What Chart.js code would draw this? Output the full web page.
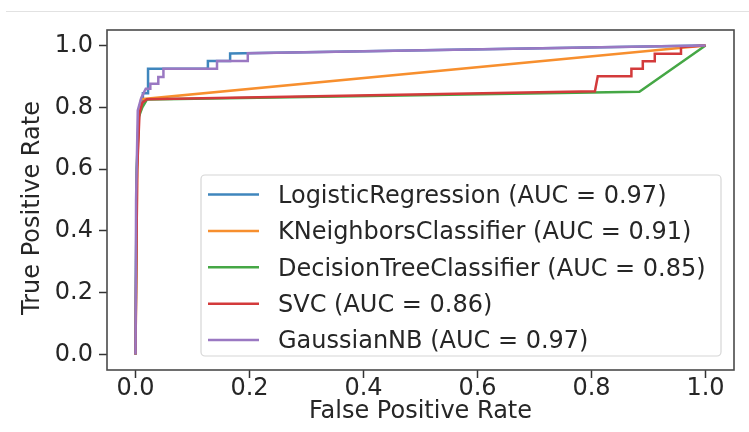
<!DOCTYPE html>
<html>
<head>
<meta charset="utf-8">
<script src="https://cdn.jsdelivr.net/npm/chart.js@4.4.1/dist/chart.umd.min.js"></script>
<style>
    html, body { margin: 0; padding: 0; background: #fff; }
    #wrap { position: relative; width: 749px; height: 432px; }
    #rule { position: absolute; left: 6px; right: 0; top: 11px; height: 1px; background: #e2e2e2; }
    canvas { position: absolute; left: 0; top: 0; }
</style>
</head>
<body>
<div id="wrap">
    <div id="rule"></div>
    <canvas id="rocChart" width="749" height="432"></canvas>
</div>
<script>
// tick values / labels shared by both axes
const tickValues = [0, 0.2, 0.4, 0.6, 0.8, 1.0];
const tickLabels = ['0.0', '0.2', '0.4', '0.6', '0.8', '1.0'];

const seriesNames = [
    'LogisticRegression (AUC = 0.97)',
    'KNeighborsClassifier (AUC = 0.91)',
    'DecisionTreeClassifier (AUC = 0.85)',
    'SVC (AUC = 0.86)',
    'GaussianNB (AUC = 0.97)'
];
const seriesColors = ['#3f86bd', '#f78f2e', '#45a745', '#d33a3b', '#9a78c2'];

// ROC points (false positive rate / true positive rate)
const lrFpr = [0, 0.002, 0.005, 0.01, 0.013, 0.013, 0.022, 0.022, 0.127, 0.127, 0.166, 0.166, 1];
const lrTpr = [0, 0.55, 0.76, 0.815, 0.82, 0.845, 0.845, 0.925, 0.925, 0.95, 0.95, 0.974, 1];

const knnFpr = [0, 0.003, 0.006, 0.01, 1];
const knnTpr = [0, 0.6, 0.79, 0.826, 1];

const dtFpr = [0, 0.002, 0.006, 0.012, 0.02, 0.884, 1];
const dtTpr = [0, 0.6, 0.77, 0.8, 0.825, 0.85, 1];

const svcFpr = [0, 0.003, 0.007, 0.012, 0.02, 0.806, 0.811, 0.87, 0.87, 0.89, 0.89, 0.911, 0.911, 0.957, 0.957, 1];
const svcTpr = [0, 0.6, 0.78, 0.815, 0.826, 0.852, 0.9, 0.9, 0.925, 0.925, 0.949, 0.949, 0.973, 0.973, 0.995, 1];

const nbFpr = [0, 0.001, 0.004, 0.01, 0.018, 0.026, 0.026, 0.04, 0.04, 0.049, 0.049, 0.143, 0.143, 0.197, 0.197, 1];
const nbTpr = [0, 0.5, 0.79, 0.83, 0.86, 0.86, 0.876, 0.876, 0.898, 0.898, 0.925, 0.925, 0.95, 0.95, 0.975, 1];

const fprList = [lrFpr, knnFpr, dtFpr, svcFpr, nbFpr];
const tprList = [lrTpr, knnTpr, dtTpr, svcTpr, nbTpr];

const FONT = 'DejaVu Sans';
const TEXT = '#262626';
const Y_TITLE = 'True Positive Rate';

document.addEventListener('DOMContentLoaded', function() {
    initializeChart();
});

function zip(xs, ys) {
    return xs.map((x, i) => ({ x: x, y: ys[i] }));
}

// axes frame (all four spines) + rotated y title
const framePlugin = {
    id: 'frame',
    afterDatasetsDraw(chart) {
        const a = chart.chartArea;
        const ctx = chart.ctx;
        ctx.save();
        ctx.strokeStyle = '#4a4a4a';
        ctx.lineWidth = 1.6;
        ctx.strokeRect(a.left, a.top, a.right - a.left, a.bottom - a.top);

        ctx.translate(33, (a.top + a.bottom) / 2 + 8);
        ctx.rotate(-Math.PI / 2);
        ctx.font = '24px "' + FONT + '"';
        ctx.fillStyle = TEXT;
        ctx.textAlign = 'center';
        ctx.textBaseline = 'middle';
        ctx.fillText(Y_TITLE, 0, 0);
        ctx.restore();
    }
};

// legend in the lower right corner, inside the axes
const insideLegend = {
    id: 'insideLegend',
    afterDraw(chart) {
        const a = chart.chartArea;
        const ctx = chart.ctx;
        const sets = chart.data.datasets;
        ctx.save();
        ctx.font = '24px "' + FONT + '"';
        const rowH = 36.4;
        const left = a.left + 94;
        const right = a.right - 13;
        const h = 181;
        const bottom = a.bottom - 14;
        const top = bottom - h;
        const w = right - left;

        ctx.beginPath();
        ctx.roundRect(left, top, w, h, 4);
        ctx.fillStyle = 'rgba(255,255,255,0.85)';
        ctx.fill();
        ctx.strokeStyle = '#d6d6d6';
        ctx.lineWidth = 1.2;
        ctx.stroke();

        sets.forEach((ds, i) => {
            const y = top + 19.5 + i * rowH;
            ctx.beginPath();
            ctx.moveTo(left + 7, y);
            ctx.lineTo(left + 58, y);
            ctx.strokeStyle = ds.borderColor;
            ctx.lineWidth = 2.5;
            ctx.stroke();
            ctx.fillStyle = TEXT;
            ctx.textBaseline = 'middle';
            ctx.textAlign = 'left';
            ctx.fillText(ds.label, left + 77, y + 2);
        });
        ctx.restore();
    }
};

function axisOptions(isX) {
    return {
        type: 'linear',
        min: -0.05,
        max: 1.05,
        afterBuildTicks: function(scale) {
            scale.ticks = tickValues.map(v => ({ value: v }));
        },
        afterFit: function(scale) {
            if (isX) scale.height = 62;
            else scale.width = 107;
        },
        grid: {
            display: true,
            drawOnChartArea: false,
            drawTicks: true,
            tickLength: 8,
            tickWidth: 1.5,
            tickColor: '#333'
        },
        border: { display: false },
        ticks: {
            padding: isX ? -4 : 6,
            color: TEXT,
            font: { family: FONT, size: 24 },
            maxRotation: 0,
            callback: function(value, index) {
                return tickLabels[index];
            }
        },
        title: {
            display: isX,
            text: 'False Positive Rate',
            color: TEXT,
            font: { family: FONT, size: 24 },
            padding: { top: 0, bottom: 6 }
        }
    };
}

function initializeChart() {
    const ctx = document.getElementById('rocChart').getContext('2d');
    const n = seriesNames.length;
    const datasets = seriesNames.map((name, i) => ({
        label: name,
        data: zip(fprList[i], tprList[i]),
        borderColor: seriesColors[i],
        backgroundColor: seriesColors[i],
        borderWidth: 2.5,
        pointRadius: 0,
        tension: 0,
        fill: false,
        order: n - i
    }));

    window.rocChart = new Chart(ctx, {
        type: 'line',
        data: { datasets: datasets },
        options: {
            responsive: false,
            animation: false,
            layout: {
                padding: { left: 0, top: 30, right: 15, bottom: 0 }
            },
            plugins: {
                legend: { display: false },
                tooltip: { enabled: false }
            },
            scales: {
                x: axisOptions(true),
                y: axisOptions(false)
            }
        },
        plugins: [framePlugin, insideLegend]
    });
}
</script>
</body>
</html>
